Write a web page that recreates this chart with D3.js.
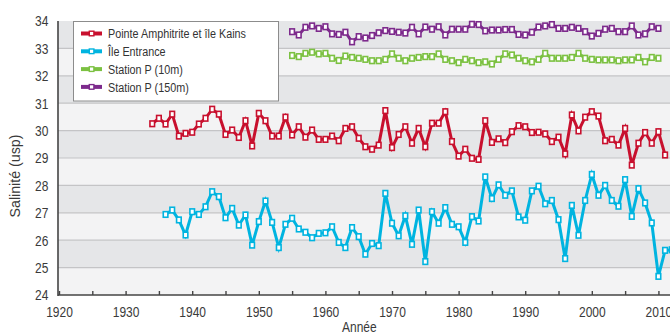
<!DOCTYPE html>
<html><head><meta charset="utf-8">
<script src="https://cdn.jsdelivr.net/npm/d3@7"></script>
<style>
html,body{margin:0;padding:0;background:#fff;}
svg{display:block;font-family:'Liberation Sans',Arial,sans-serif;}
</style></head>
<body><svg id="chart" width="670" height="334"></svg>
<script>
// ---- data ----
const seriesNames = ["Pointe Amphitrite et île Kains", "Île Entrance", "Station P (10m)", "Station P (150m)"];
const seriesColors = ["#c8102e", "#00b4e0", "#7cc142", "#7d2a8c"];
const startRed = 1934;
const valuesRed = [
  30.25,30.45,30.24,30.60,29.80,29.90,
  29.94,30.24,30.45,30.78,30.60,29.86,30.02,29.75,30.36,29.44,
  30.63,30.36,29.80,29.80,30.49,29.84,30.14,29.76,30.02,29.68,
  29.68,29.80,29.63,30.08,30.14,29.72,29.41,29.32,29.47,30.73,
  29.38,29.86,30.14,29.54,30.08,29.41,30.27,30.27,30.69,29.60,
  29.07,29.32,28.99,28.95,30.36,29.57,29.70,29.56,29.96,30.18,
  30.14,29.93,29.94,29.88,29.60,29.76,29.15,30.57,29.99,30.49,
  30.69,30.53,29.63,29.68,29.47,30.08,28.74,29.54,29.93,29.54,
  29.96,29.11
];
const startCyan = 1936;
const valuesCyan = [
  26.94,27.10,26.74,26.19,
  27.04,26.94,27.22,27.77,27.59,26.82,27.16,26.55,26.92,25.82,
  26.68,27.43,26.65,25.73,26.58,26.80,26.41,26.29,26.09,26.25,
  26.27,26.49,25.92,25.73,26.46,26.13,25.49,25.88,25.80,27.71,
  26.62,26.16,26.89,25.85,27.10,25.22,27.04,26.62,27.19,26.58,
  26.49,25.92,26.86,26.70,28.31,27.52,28.02,27.64,27.80,26.85,
  26.73,27.80,27.97,27.33,27.45,26.75,25.33,27.27,26.18,27.45,
  28.40,27.64,28.00,27.45,27.24,28.21,26.87,27.88,27.36,26.63,
  24.68,25.63,25.65
];
const startP10 = 1955;
const valuesP10 = [
  32.74,32.70,32.82,32.86,32.80,
  32.82,32.64,32.56,32.72,32.67,32.64,32.60,32.55,32.55,32.60,
  32.80,32.64,32.55,32.64,32.67,32.70,32.70,32.80,32.60,32.55,
  32.48,32.60,32.55,32.48,32.51,32.43,32.60,32.80,32.76,32.64,
  32.55,32.51,32.60,32.82,32.64,32.64,32.64,32.67,32.82,32.64,
  32.60,32.58,32.58,32.58,32.55,32.58,32.58,32.67,32.51,32.67,
  32.64
];
const startP150 = 1955;
const valuesP150 = [
  33.61,33.49,33.77,33.82,33.73,
  33.79,33.53,33.51,33.59,33.24,33.43,33.38,33.47,33.57,33.65,
  33.62,33.59,33.56,33.77,33.53,33.78,33.70,33.79,33.49,33.70,
  33.70,33.70,33.88,33.87,33.64,33.67,33.67,33.69,33.69,33.51,
  33.49,33.59,33.78,33.82,33.87,33.73,33.73,33.77,33.73,33.61,
  33.45,33.55,33.70,33.73,33.61,33.61,33.82,33.49,33.53,33.79,
  33.73
];
const xTickYears = [1920,1930,1940,1950,1960,1970,1980,1990,2000,2010];
const yTickValues = [24,25,26,27,28,29,30,31,32,33,34];
const xTitle = "Année";
const yTitle = "Salinité (usp)";

// ---- chart ----
const svg = d3.select("#chart");
const x = d3.scaleLinear().domain([1920, 2013]).range([59, 678.4]);
const y = d3.scaleLinear().domain([24, 34]).range([295, 21]);
const left = 58, right = 670;
const narrow = 0.8;

// background bands
const bands = d3.range(24, 34);
svg.append("g").selectAll("rect").data(bands).join("rect")
  .attr("x", left).attr("width", right - left)
  .attr("y", d => y(d + 1)).attr("height", d => y(d) - y(d + 1))
  .attr("fill", d => ((34 - (d + 1)) % 2 === 0) ? "#e5e6e8" : "#f3f3f4");

// gridlines
svg.append("g").selectAll("line").data(yTickValues.filter(v => v > 24 && v < 34)).join("line")
  .attr("x1", left).attr("x2", right)
  .attr("y1", d => y(d)).attr("y2", d => y(d))
  .attr("stroke", "#c4c4c6").attr("stroke-width", 1.2);

// axes
const xAxis = d3.axisBottom(x)
  .tickValues(d3.range(1920, 2015, 5))
  .tickSize(-4).tickPadding(11)
  .tickFormat(d => xTickYears.includes(d) ? String(d) : "");
const gx = svg.append("g").attr("transform", `translate(0,${y(24)})`).call(xAxis);
gx.select(".domain").attr("d", `M${left},0H${right}`).attr("stroke", "#444").attr("stroke-width", 1.6);
gx.selectAll(".tick line").attr("stroke", "#444").attr("stroke-width", 1.4);
gx.selectAll(".tick text").attr("font-size", 15).attr("fill", "#3a3a3a")
  .attr("font-family", "'Liberation Sans',Arial,sans-serif")
  .attr("transform", `scale(${narrow},1)`);

const yAxis = d3.axisLeft(y).tickValues(yTickValues).tickSize(0).tickPadding(12).tickFormat(d3.format("d"));
const gy = svg.append("g").attr("transform", `translate(${left},0)`).call(yAxis);
gy.select(".domain").attr("d", `M0,${y(34)}V${y(24) + 1}`).attr("stroke", "#444").attr("stroke-width", 1.6);
gy.selectAll(".tick text").attr("font-size", 15).attr("fill", "#3a3a3a")
  .attr("font-family", "'Liberation Sans',Arial,sans-serif")
  .attr("transform", `scale(${narrow},1)`);

// axis titles
svg.append("text").attr("transform", `translate(342,332) scale(${narrow},1)`)
  .attr("font-size", 15).attr("fill", "#3a3a3a").text(xTitle);
svg.append("text").attr("transform", `translate(20,176) rotate(-90) scale(0.95,1)`).attr("text-anchor", "middle")
  .attr("font-size", 15).attr("fill", "#3a3a3a").text(yTitle);

// series
const series = [
  {start: startRed, values: valuesRed, color: seriesColors[0]},
  {start: startCyan, values: valuesCyan, color: seriesColors[1]},
  {start: startP10, values: valuesP10, color: seriesColors[2]},
  {start: startP150, values: valuesP150, color: seriesColors[3]}
];
const line = d3.line().x(d => x(d.year)).y(d => y(d.v));
const plot = svg.append("g");
series.forEach(s => {
  const pts = s.values.map((v, i) => ({year: s.start + i, v}));
  plot.append("path").datum(pts).attr("d", line).attr("fill", "none")
    .attr("stroke", s.color).attr("stroke-width", 3).attr("stroke-linejoin", "miter");
  plot.append("g").selectAll("rect").data(pts).join("rect")
    .attr("x", d => x(d.year) - 2.3).attr("y", d => y(d.v) - 2.8)
    .attr("width", 4.6).attr("height", 5.6)
    .attr("fill", "#fff").attr("stroke", s.color).attr("stroke-width", 1.6);
});

// legend
const lg = svg.append("g");
lg.append("rect").attr("x", 73.5).attr("y", 21.5).attr("width", 205).attr("height", 79.5)
  .attr("fill", "#fff").attr("stroke", "#8c8c8c").attr("stroke-width", 1);
seriesNames.forEach((name, i) => {
  const cy = 33.5 + i * 17.8;
  lg.append("line").attr("x1", 81).attr("x2", 102).attr("y1", cy).attr("y2", cy)
    .attr("stroke", seriesColors[i]).attr("stroke-width", 4);
  lg.append("rect").attr("x", 89.3).attr("y", cy - 2.3).attr("width", 4.6).attr("height", 4.6)
    .attr("fill", "#fff").attr("stroke", seriesColors[i]).attr("stroke-width", 1.4);
  lg.append("text").attr("transform", `translate(108,${cy + 4.8}) scale(${narrow},1)`)
    .attr("font-size", 13.5).attr("fill", "#333").text(name);
});
</script>
</body></html>
